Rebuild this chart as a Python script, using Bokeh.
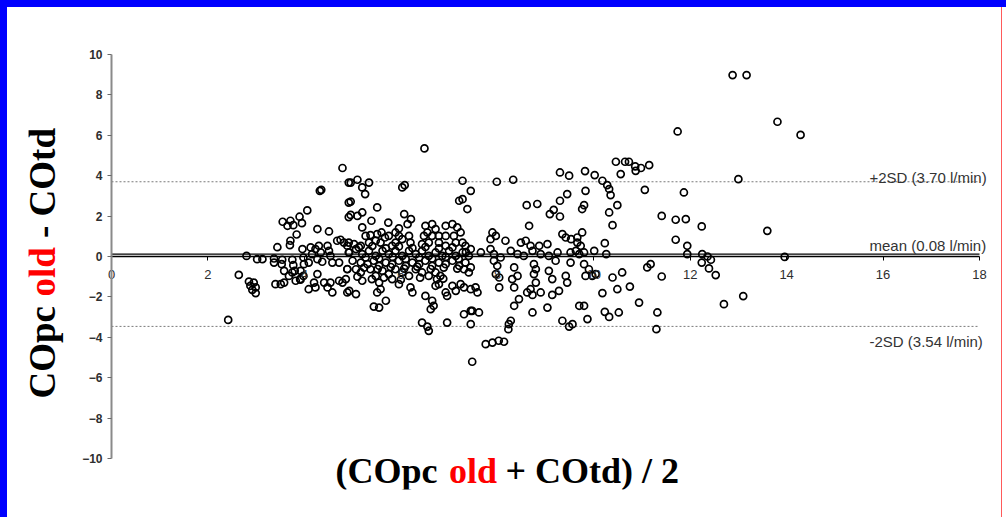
import math
from bokeh.plotting import figure
from bokeh.models import Label, FixedTicker
from bokeh.embed import file_html
from bokeh.resources import INLINE

# ---- data ----
avg_co = [
    4.79, 4.92, 4.32, 4.35, 4.92, 4.92, 4.06, 3.55, 3.71, 3.90, 3.65, 3.77, 3.95, 3.84, 3.71, 3.70, 4.27, 4.51, 3.44,
    2.80, 3.02, 3.13, 3.37, 3.37, 3.54, 3.53, 3.58, 3.75, 3.77, 3.80, 3.96, 3.98, 3.99, 3.92, 3.91, 3.98,
    4.13, 4.16, 4.23, 4.27, 4.30, 4.34, 4.37, 4.48, 4.51, 4.54, 4.58, 4.68, 4.75, 4.82, 4.89, 4.92, 4.72, 4.09,
    2.64, 2.85, 2.95, 2.88, 2.99, 2.92, 2.99, 3.40, 3.51, 3.58, 3.68, 3.75, 3.82, 3.92,
    4.09, 4.20, 4.27, 4.23, 4.41, 4.48, 4.54, 4.58, 4.72, 4.79, 4.89, 4.89, 2.42,
    6.49, 4.96, 5.10, 5.20, 5.34, 5.26, 4.96, 6.03, 6.08, 7.28, 7.45, 7.28, 7.21, 7.38,
    4.96, 5.10, 5.20, 5.51, 5.39, 6.07, 6.21, 6.14, 5.96, 5.89, 5.74, 5.20,
    5.27, 5.37, 5.51, 5.60, 5.67, 5.48, 5.34, 5.58, 5.75, 5.82, 5.17, 5.03, 4.92,
    6.51, 6.65, 6.72, 6.55, 6.48, 6.65, 6.79, 6.93, 7.07, 7.17, 7.24, 7.10, 6.93, 7.14, 7.28, 7.34, 7.45, 6.79, 6.93, 6.58, 6.44, 6.20, 6.17, 5.96, 6.03, 5.89,
    4.93, 5.07, 5.20, 5.34, 5.48, 5.62, 5.75, 5.89, 6.03, 6.17, 6.31, 6.44, 6.58, 6.72, 6.86, 7.00, 7.14, 7.28, 7.41,
    5.00, 5.17, 5.31, 5.44, 5.55, 5.69, 5.82, 5.96, 6.10, 6.24, 6.38, 6.51, 6.65, 6.79, 6.93, 7.07, 7.21, 7.34,
    4.89, 5.07, 5.17, 5.37, 5.48, 5.62, 5.75, 5.89, 6.03, 6.17, 6.31, 6.44, 6.58, 6.72, 6.82, 7.31, 7.45, 7.41,
    4.86, 5.20, 5.40, 5.55, 5.82, 5.96, 6.20, 6.24, 6.51, 6.75, 6.79, 6.72, 7.07, 7.24, 7.14, 6.93, 6.96, 7.45, 7.31, 5.58, 5.51, 4.93, 5.07,
    6.65, 6.68, 6.62, 5.44, 5.55, 5.69, 7.31, 7.45,
    6.44, 6.55, 6.58, 6.96, 7.45, 7.48,
    5.13, 5.41, 5.69, 5.96, 6.24, 6.51, 6.79, 7.07, 7.35, 5.27, 5.55, 5.83, 6.10, 6.38, 6.65, 6.93, 7.20,
    5.24, 5.52, 5.79, 6.07, 6.34, 6.62, 6.89, 7.17, 5.10, 5.65, 6.00, 6.40, 6.88,
    7.66, 7.86, 7.93, 8.07, 8.28, 8.42, 8.55, 8.73, 8.90, 9.07, 9.21, 9.25, 9.52, 9.63, 9.70, 9.80, 10.01,
    7.93, 8.00, 7.97, 8.04, 8.35, 8.31, 8.35, 8.42, 8.76, 8.80, 8.76, 8.80, 8.69, 8.62, 8.73, 8.90, 9.07, 9.14, 9.28, 9.14, 9.42, 9.45, 9.52, 9.80, 9.90, 9.83, 9.97,
    7.55, 7.59, 8.04, 8.45, 8.35, 8.73, 9.04, 9.70, 9.80, 7.48, 7.62, 9.87, 9.35, 9.49, 9.56, 8.28, 8.24, 8.23,
    7.76, 7.90, 8.03, 8.14,
    9.30, 9.49, 9.82, 10.02, 7.99, 8.33, 8.61, 8.83, 9.09, 9.17, 9.30, 9.30, 9.45, 9.83, 9.76, 9.80, 8.66, 7.90, 7.97, 7.86, 8.17, 8.49, 8.59, 8.69, 8.87, 9.04, 9.35, 9.42, 9.53, 9.66, 9.76, 9.66, 9.73,
    10.46, 10.65, 10.73, 10.86, 10.98, 11.15, 10.56, 10.87, 10.18, 10.28, 10.32, 10.35, 11.06, 11.87, 10.49, 10.32, 10.39, 11.41, 11.70, 11.91, 12.24, 11.70, 11.94, 10.23, 10.26,
    11.94, 12.25, 12.36, 12.43, 12.24, 12.39, 12.53, 11.18, 11.11, 10.04, 10.39, 10.59, 11.41, 10.18, 10.49, 10.75, 10.94, 10.23, 10.32, 10.52, 11.32, 12.70, 11.30,
    12.88, 13.17, 13.81, 14.29, 11.74, 13.00, 13.60, 13.96, 13.10,
]
diff_co = [
    4.38, 3.66, 3.25, 3.30, 2.67, 1.95, 2.28, 1.72, 1.77, 1.97, 1.52, 1.55, 1.65, 1.09, 0.78, 0.56, 1.36, 1.24, 0.46,
    0.03, -0.13, -0.13, -0.10, -0.30, -0.16, -0.38, -0.71, -0.16, -0.43, -0.71, 0.37, -0.05, -0.38, -0.71, -1.12, -0.96,
    0.45, 0.12, 0.37, -0.13, 0.53, 0.20, -0.26, 0.53, 0.28, 0.03, -0.30, 0.78, 0.83, 0.69, 0.53, 0.20, -0.30, -0.30,
    -0.91, -1.24, -1.29, -1.45, -1.53, -1.65, -1.81, -1.37, -1.37, -1.29, -0.96, -0.79, -1.20, -1.15,
    -1.62, -1.29, -0.87, -1.53, -1.29, -1.53, -1.29, -1.78, -1.20, -1.29, -1.78, -0.62, -3.14,
    5.35, 3.66, 3.80, 3.42, 3.66, 3.09, 2.72, 3.42, 3.53, 3.75, 3.25, 2.84, 2.76, 2.35,
    2.06, 2.01, 2.18, 2.43, 1.77, 2.10, 1.85, 1.60, 1.39, 1.19, 1.68, 1.44,
    1.02, 1.06, 1.11, 1.19, 0.94, 0.78, 0.69, 0.69, 1.02, 0.53, 0.53, 0.61, 0.69,
    1.52, 1.60, 1.36, 1.19, 1.02, 1.02, 0.69, 1.52, 1.60, 1.44, 1.19, 1.02, 1.02, 0.69, 0.69, 0.53, 0.37, 1.02, 0.53, 0.69, 0.61, 0.69, 1.02, 1.02, 0.86, 0.69,
    0.20, 0.37, 0.12, 0.28, 0.03, 0.28, 0.12, 0.28, 0.03, 0.28, 0.12, 0.28, 0.03, 0.20, 0.03, 0.28, 0.03, 0.20, 0.03,
    -0.21, -0.30, -0.38, -0.21, -0.46, -0.30, -0.38, -0.21, -0.46, -0.30, -0.38, -0.21, -0.46, -0.30, -0.38, -0.21, -0.46, -0.30,
    -0.63, -0.63, -0.79, -0.63, -0.96, -0.71, -0.87, -0.63, -0.79, -0.96, -0.63, -0.79, -0.96, -0.79, -0.96, -0.63, -0.54, -0.79,
    -1.12, -1.20, -1.12, -1.29, -1.12, -1.37, -1.53, -1.78, -1.95, -1.12, -1.37, -1.45, -1.45, -1.37, -1.70, -1.78, -1.95, -1.62, -1.53, -1.62, -1.78, -1.70, -1.86,
    -2.19, -2.44, -2.61, -2.48, -2.53, -2.19, -2.86, -2.69,
    -3.27, -3.47, -3.68, -3.27, -3.35, -5.21,
    0.45, 0.52, 0.40, 0.50, 0.42, 0.47, 0.40, 0.45, 0.22, -0.05, -0.10, -0.02, -0.12, -0.05, -0.10, -0.02, -0.12,
    -0.55, -0.62, -0.52, -0.60, -0.50, -0.62, -0.55, -0.60, -1.00, -1.05, -1.15, -1.05, -1.10,
    0.20, 0.37, 0.12, -0.05, 0.28, 0.12, 0.03, 0.28, 0.12, 0.03, -0.21, 0.20, 0.20, 0.28, 0.12, 0.20, 0.28,
    -0.21, -0.46, -0.87, -1.04, -0.54, -1.12, -1.53, -0.96, -0.38, -0.63, -0.87, -1.29, -1.62, -1.78, -1.90, -1.78, -0.71, -1.12, -1.70, -1.90, -0.96, -1.29, -0.30, -0.38, -0.63, -0.96, -0.96,
    -1.53, -1.78, -1.53, -2.11, -2.44, -2.77, -2.53, -2.44, -2.44, -2.69, -2.77, -3.10, -3.18, -3.47, -3.35, -3.18, -3.35, -3.60,
    -4.34, -4.26, -4.17, -4.22,
    4.16, 4.00, 4.23, 4.03, 3.70, 3.80, 2.54, 2.60, 2.10, 2.31, 1.98, 2.76, 3.09, 3.25, 2.35, 2.54, 1.52, 1.19, 1.02, 0.86, 0.78, 0.69, 0.78, 0.53, 0.53, 0.61, 1.11, 0.94, 0.86, 0.94, 1.19, 0.69, 0.53,
    4.69, 4.69, 4.69, 4.46, 4.38, 4.52, 4.08, 4.24, 3.75, 3.53, 3.34, 3.04, 3.30, 3.17, 2.54, 2.18, 1.55, 2.01, 1.82, 1.85, 1.49, 0.83, 0.53, 0.66, 0.12,
    0.12, 0.12, 0.00, -0.16, -0.30, -0.59, -0.92, -0.38, -0.54, -0.87, -1.04, -0.79, -0.99, -1.81, -1.62, -1.49, -2.28, -2.74, -2.99, -2.77, -2.77, -2.36, -3.60,
    8.98, 8.98, 6.67, 6.02, 6.19, 3.83, 1.27, -0.02, -1.96,
]

mean_bias = 0.12
upper_loa = 3.70
lower_loa = -3.46
upper_text = "+2SD (3.70 l/min)"
mean_text = "mean (0.08 l/min)"
lower_text = "-2SD (3.54 l/min)"
x_ticks = [0, 2, 4, 6, 8, 10, 12, 14, 16, 18]
y_ticks = [-10, -8, -6, -4, -2, 0, 2, 4, 6, 8, 10]

n = min(len(avg_co), len(diff_co))
avg_co = avg_co[:n]
diff_co = diff_co[:n]

# ---- geometry: frame spans nearly the whole canvas, axes sit at fixed locations ----
W, H = 1006, 517
LEFT, BOTTOM = 28, 28
PX_X = 868 / 18.0      # pixels per x unit
PX_Y = 404 / 20.0      # pixels per y unit
X0_PX, Y0_PX = 111, 256  # page position of (0, 0)
x_lo = (LEFT - X0_PX) / PX_X
x_hi = (W - X0_PX) / PX_X
y_hi = Y0_PX / PX_Y
y_lo = (Y0_PX - (H - BOTTOM)) / PX_Y


def px_x(px):
    return (px - X0_PX) / PX_X


def px_y(py):
    return (Y0_PX - py) / PX_Y


bg = ("linear-gradient(#0000ff,#0000ff) 0 0/100% 7px no-repeat, "
      "linear-gradient(#0000ff,#0000ff) 0 0/7px 100% no-repeat, "
      "linear-gradient(#ff5a5a,#ff5a5a) 1001px 7px/1px 100% no-repeat, white")

p = figure(width=W, height=H, x_range=(x_lo, x_hi), y_range=(y_lo, y_hi),
           output_backend="svg", toolbar_location=None,
           min_border_left=LEFT, min_border_right=0, min_border_top=0, min_border_bottom=BOTTOM,
           background_fill_color=None, border_fill_color=None,
           styles={"background": bg})
p.grid.visible = False
p.outline_line_color = None

# y axis at x = 0
p.yaxis.fixed_location = 0
p.yaxis.bounds = (y_ticks[0], y_ticks[-1])
p.yaxis.ticker = FixedTicker(ticks=y_ticks)
p.yaxis.axis_line_color = "#8a8a8a"
p.yaxis.axis_line_width = 2
p.yaxis.major_tick_line_color = "#6a6a6a"
p.yaxis.major_tick_out = 4
p.yaxis.major_tick_in = 0
p.yaxis.minor_tick_line_color = None
p.yaxis.major_label_text_font = "Liberation Sans"
p.yaxis.major_label_text_font_style = "bold"
p.yaxis.major_label_text_font_size = "12px"
p.yaxis.major_label_text_color = "#2e2e2e"
p.yaxis.major_label_standoff = 5

# x axis at y = 0
p.xaxis.fixed_location = 0
p.xaxis.bounds = (x_ticks[0], x_ticks[-1])
p.xaxis.ticker = FixedTicker(ticks=x_ticks)
p.xaxis.axis_line_color = "black"
p.xaxis.axis_line_width = 1.3
p.xaxis.major_tick_line_color = "black"
p.xaxis.major_tick_out = 4
p.xaxis.major_tick_in = 0
p.xaxis.minor_tick_line_color = None
p.xaxis.major_label_text_font = "Liberation Sans"
p.xaxis.major_label_text_font_size = "13px"
p.xaxis.major_label_text_color = "#2e2e2e"
p.xaxis.major_label_standoff = 9

# reference lines (from 0 to 18)
xs = [x_ticks[0], x_ticks[-1]]
p.line(xs, [upper_loa, upper_loa], line_color="#7a7a7a", line_dash="2 2", line_width=1)
p.line(xs, [lower_loa, lower_loa], line_color="#7a7a7a", line_dash="2 2", line_width=1)
p.line(xs, [mean_bias, mean_bias], line_color="black", line_width=1.2)

# points
p.scatter(avg_co, diff_co, marker="circle", size=7, line_color="black",
          line_width=1.7, fill_alpha=0)

# right side annotations
ann = dict(text_font="Liberation Sans", text_font_size="15px", text_color="#333333",
           text_baseline="middle", text_align="left")
p.add_layout(Label(x=px_x(869), y=px_y(176.5), text=upper_text, **ann))
p.add_layout(Label(x=px_x(869), y=px_y(245), text=mean_text, **ann))
p.add_layout(Label(x=px_x(869), y=px_y(341), text=lower_text, **ann))

# axis titles (multi-coloured)
xt = dict(text_font="Liberation Serif", text_font_style="bold",
          text_font_size="36px", text_baseline="middle", text_align="left")
p.add_layout(Label(x=px_x(335), y=px_y(470), text="(COpc", text_color="black", **xt))
p.add_layout(Label(x=px_x(448.5), y=px_y(470), text="old", text_color="#ff0000", **xt))
p.add_layout(Label(x=px_x(505), y=px_y(470), text="+ COtd) / 2", text_color="black", **xt))

yt = dict(text_font="Liberation Serif", text_font_style="bold",
          text_font_size="37px", text_baseline="middle", text_align="left",
          angle=math.pi / 2)
p.add_layout(Label(x=px_x(42), y=px_y(398), text="COpc", text_color="black", **yt))
p.add_layout(Label(x=px_x(42), y=px_y(296), text="old", text_color="#ff0000", **yt))
p.add_layout(Label(x=px_x(42), y=px_y(237.5), text="- COtd", text_color="black", **yt))

open("out.html", "w").write(file_html(p, INLINE))
